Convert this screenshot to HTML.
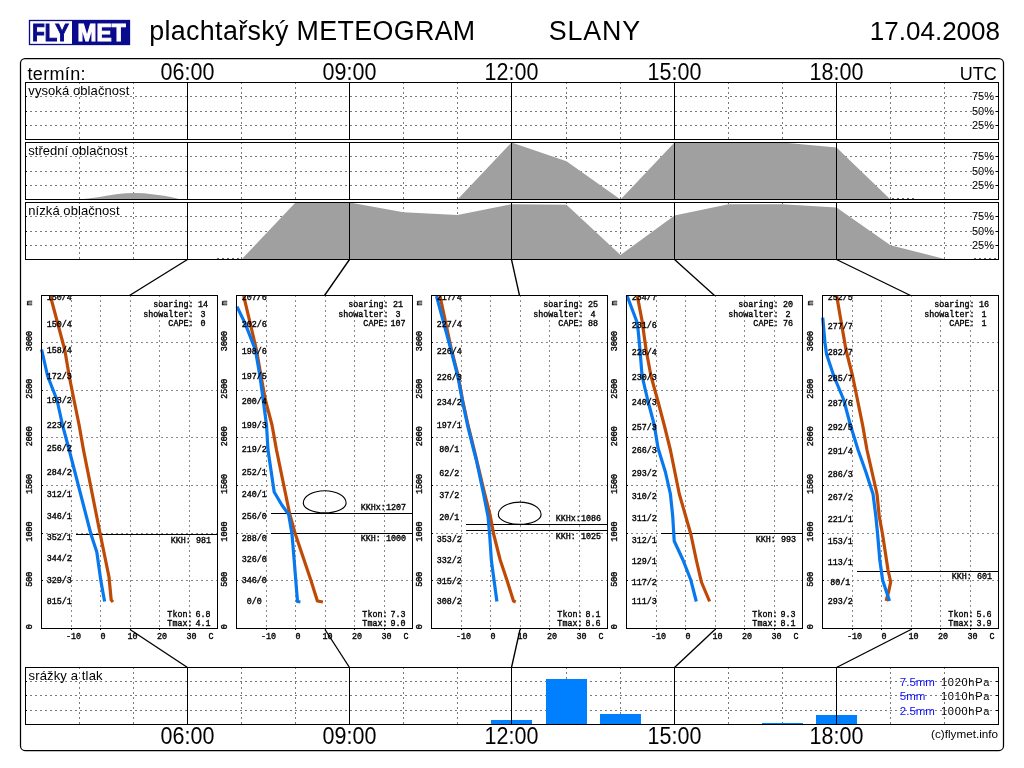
<!DOCTYPE html>
<html><head><meta charset="utf-8"><title>plachtařský METEOGRAM SLANY</title>
<style>
html,body{margin:0;padding:0;background:#fff;width:1024px;height:768px;overflow:hidden}
svg{display:block}
.m{font-family:'Liberation Mono', 'DejaVu Sans Mono', monospace;font-size:8.4px;fill:#000;stroke:#000;stroke-width:0.35px}
</style></head><body>
<svg width="1024" height="768" viewBox="0 0 1024 768">
<rect x="0" y="0" width="1024" height="768" fill="#ffffff"/>
<g>
<rect x="29.5" y="20.5" width="100" height="24" fill="#ffffff" stroke="#0a0a8c" stroke-width="1.3"/>
<rect x="72" y="20" width="58" height="25" fill="#0a0a8c"/>
<text x="32.3" y="41.2" font-family="'Liberation Sans', Arial, Helvetica, sans-serif" font-weight="bold" font-size="23.8" fill="#0a0a8c" stroke="#0a0a8c" stroke-width="1.1" textLength="36.6" lengthAdjust="spacingAndGlyphs">FLY</text>
<text x="77.6" y="41.2" font-family="'Liberation Sans', Arial, Helvetica, sans-serif" font-weight="bold" font-size="23.8" fill="#ffffff" stroke="#ffffff" stroke-width="1.1" textLength="48" lengthAdjust="spacingAndGlyphs">MET</text>
</g>
<text x="149.2" y="39.7" font-family="'Liberation Sans', Arial, Helvetica, sans-serif" font-size="26.8" fill="#000" textLength="326">plachtařský METEOGRAM</text>
<text x="548.8" y="39.5" font-family="'Liberation Sans', Arial, Helvetica, sans-serif" font-size="26.8" fill="#000" textLength="91.4">SLANY</text>
<text x="1000" y="40" font-family="'Liberation Sans', Arial, Helvetica, sans-serif" font-size="26" fill="#000" text-anchor="end">17.04.2008</text>
<rect x="20.5" y="58.5" width="983" height="692" rx="4.5" ry="4.5" fill="none" stroke="#000" stroke-width="1.25"/>
<text x="27.5" y="79.8" font-family="'Liberation Sans', Arial, Helvetica, sans-serif" font-size="18" fill="#000" textLength="58">termín:</text>
<text x="187.5" y="79.8" font-family="'Liberation Sans', Arial, Helvetica, sans-serif" font-size="23" fill="#000" text-anchor="middle" textLength="53.8" lengthAdjust="spacingAndGlyphs">06:00</text>
<text x="349.5" y="79.8" font-family="'Liberation Sans', Arial, Helvetica, sans-serif" font-size="23" fill="#000" text-anchor="middle" textLength="53.8" lengthAdjust="spacingAndGlyphs">09:00</text>
<text x="511.5" y="79.8" font-family="'Liberation Sans', Arial, Helvetica, sans-serif" font-size="23" fill="#000" text-anchor="middle" textLength="53.8" lengthAdjust="spacingAndGlyphs">12:00</text>
<text x="674.5" y="79.8" font-family="'Liberation Sans', Arial, Helvetica, sans-serif" font-size="23" fill="#000" text-anchor="middle" textLength="53.8" lengthAdjust="spacingAndGlyphs">15:00</text>
<text x="836.5" y="79.8" font-family="'Liberation Sans', Arial, Helvetica, sans-serif" font-size="23" fill="#000" text-anchor="middle" textLength="53.8" lengthAdjust="spacingAndGlyphs">18:00</text>
<text x="996.8" y="80" font-family="'Liberation Sans', Arial, Helvetica, sans-serif" font-size="18" fill="#000" text-anchor="end">UTC</text>
<line x1="26" y1="96.5" x2="998" y2="96.5" stroke="#7a7a7a" stroke-width="1" stroke-dasharray="2,3" stroke-dashoffset="1"/>
<line x1="25" y1="96.5" x2="27" y2="96.5" stroke="#000" stroke-width="1"/>
<line x1="996" y1="96.5" x2="999" y2="96.5" stroke="#000" stroke-width="1"/>
<line x1="26" y1="111.5" x2="998" y2="111.5" stroke="#7a7a7a" stroke-width="1" stroke-dasharray="2,3" stroke-dashoffset="1"/>
<line x1="25" y1="111.5" x2="27" y2="111.5" stroke="#000" stroke-width="1"/>
<line x1="996" y1="111.5" x2="999" y2="111.5" stroke="#000" stroke-width="1"/>
<line x1="26" y1="125.5" x2="998" y2="125.5" stroke="#7a7a7a" stroke-width="1" stroke-dasharray="2,3" stroke-dashoffset="1"/>
<line x1="25" y1="125.5" x2="27" y2="125.5" stroke="#000" stroke-width="1"/>
<line x1="996" y1="125.5" x2="999" y2="125.5" stroke="#000" stroke-width="1"/>
<line x1="79.5" y1="82" x2="79.5" y2="139" stroke="#7a7a7a" stroke-width="1" stroke-dasharray="2,3" stroke-dashoffset="0"/>
<line x1="133.5" y1="82" x2="133.5" y2="139" stroke="#7a7a7a" stroke-width="1" stroke-dasharray="2,3" stroke-dashoffset="0"/>
<line x1="241.5" y1="82" x2="241.5" y2="139" stroke="#7a7a7a" stroke-width="1" stroke-dasharray="2,3" stroke-dashoffset="0"/>
<line x1="295.5" y1="82" x2="295.5" y2="139" stroke="#7a7a7a" stroke-width="1" stroke-dasharray="2,3" stroke-dashoffset="0"/>
<line x1="403.5" y1="82" x2="403.5" y2="139" stroke="#7a7a7a" stroke-width="1" stroke-dasharray="2,3" stroke-dashoffset="0"/>
<line x1="457.5" y1="82" x2="457.5" y2="139" stroke="#7a7a7a" stroke-width="1" stroke-dasharray="2,3" stroke-dashoffset="0"/>
<line x1="566.5" y1="82" x2="566.5" y2="139" stroke="#7a7a7a" stroke-width="1" stroke-dasharray="2,3" stroke-dashoffset="0"/>
<line x1="620.5" y1="82" x2="620.5" y2="139" stroke="#7a7a7a" stroke-width="1" stroke-dasharray="2,3" stroke-dashoffset="0"/>
<line x1="728.5" y1="82" x2="728.5" y2="139" stroke="#7a7a7a" stroke-width="1" stroke-dasharray="2,3" stroke-dashoffset="0"/>
<line x1="782.5" y1="82" x2="782.5" y2="139" stroke="#7a7a7a" stroke-width="1" stroke-dasharray="2,3" stroke-dashoffset="0"/>
<line x1="890.5" y1="82" x2="890.5" y2="139" stroke="#7a7a7a" stroke-width="1" stroke-dasharray="2,3" stroke-dashoffset="0"/>
<line x1="944.5" y1="82" x2="944.5" y2="139" stroke="#7a7a7a" stroke-width="1" stroke-dasharray="2,3" stroke-dashoffset="0"/>
<line x1="187.5" y1="82" x2="187.5" y2="140" stroke="#000" stroke-width="1"/>
<line x1="349.5" y1="82" x2="349.5" y2="140" stroke="#000" stroke-width="1"/>
<line x1="511.5" y1="82" x2="511.5" y2="140" stroke="#000" stroke-width="1"/>
<line x1="674.5" y1="82" x2="674.5" y2="140" stroke="#000" stroke-width="1"/>
<line x1="836.5" y1="82" x2="836.5" y2="140" stroke="#000" stroke-width="1"/>
<rect x="25.5" y="82.5" width="973" height="57" fill="none" stroke="#000" stroke-width="1"/>
<text x="28.3" y="95" font-family="'Liberation Sans', Arial, Helvetica, sans-serif" font-size="13" fill="#000" textLength="101">vysoká oblačnost</text>
<text x="994" y="100" font-family="'Liberation Sans', Arial, Helvetica, sans-serif" font-size="11" fill="#000" text-anchor="end">75%</text>
<text x="994" y="115" font-family="'Liberation Sans', Arial, Helvetica, sans-serif" font-size="11" fill="#000" text-anchor="end">50%</text>
<text x="994" y="129" font-family="'Liberation Sans', Arial, Helvetica, sans-serif" font-size="11" fill="#000" text-anchor="end">25%</text>
<line x1="26" y1="156.5" x2="998" y2="156.5" stroke="#7a7a7a" stroke-width="1" stroke-dasharray="2,3" stroke-dashoffset="1"/>
<line x1="25" y1="156.5" x2="27" y2="156.5" stroke="#000" stroke-width="1"/>
<line x1="996" y1="156.5" x2="999" y2="156.5" stroke="#000" stroke-width="1"/>
<line x1="26" y1="171.5" x2="998" y2="171.5" stroke="#7a7a7a" stroke-width="1" stroke-dasharray="2,3" stroke-dashoffset="1"/>
<line x1="25" y1="171.5" x2="27" y2="171.5" stroke="#000" stroke-width="1"/>
<line x1="996" y1="171.5" x2="999" y2="171.5" stroke="#000" stroke-width="1"/>
<line x1="26" y1="185.5" x2="998" y2="185.5" stroke="#7a7a7a" stroke-width="1" stroke-dasharray="2,3" stroke-dashoffset="1"/>
<line x1="25" y1="185.5" x2="27" y2="185.5" stroke="#000" stroke-width="1"/>
<line x1="996" y1="185.5" x2="999" y2="185.5" stroke="#000" stroke-width="1"/>
<line x1="79.5" y1="142" x2="79.5" y2="199" stroke="#7a7a7a" stroke-width="1" stroke-dasharray="2,3" stroke-dashoffset="0"/>
<line x1="133.5" y1="142" x2="133.5" y2="199" stroke="#7a7a7a" stroke-width="1" stroke-dasharray="2,3" stroke-dashoffset="0"/>
<line x1="241.5" y1="142" x2="241.5" y2="199" stroke="#7a7a7a" stroke-width="1" stroke-dasharray="2,3" stroke-dashoffset="0"/>
<line x1="295.5" y1="142" x2="295.5" y2="199" stroke="#7a7a7a" stroke-width="1" stroke-dasharray="2,3" stroke-dashoffset="0"/>
<line x1="403.5" y1="142" x2="403.5" y2="199" stroke="#7a7a7a" stroke-width="1" stroke-dasharray="2,3" stroke-dashoffset="0"/>
<line x1="457.5" y1="142" x2="457.5" y2="199" stroke="#7a7a7a" stroke-width="1" stroke-dasharray="2,3" stroke-dashoffset="0"/>
<line x1="566.5" y1="142" x2="566.5" y2="199" stroke="#7a7a7a" stroke-width="1" stroke-dasharray="2,3" stroke-dashoffset="0"/>
<line x1="620.5" y1="142" x2="620.5" y2="199" stroke="#7a7a7a" stroke-width="1" stroke-dasharray="2,3" stroke-dashoffset="0"/>
<line x1="728.5" y1="142" x2="728.5" y2="199" stroke="#7a7a7a" stroke-width="1" stroke-dasharray="2,3" stroke-dashoffset="0"/>
<line x1="782.5" y1="142" x2="782.5" y2="199" stroke="#7a7a7a" stroke-width="1" stroke-dasharray="2,3" stroke-dashoffset="0"/>
<line x1="890.5" y1="142" x2="890.5" y2="199" stroke="#7a7a7a" stroke-width="1" stroke-dasharray="2,3" stroke-dashoffset="0"/>
<line x1="944.5" y1="142" x2="944.5" y2="199" stroke="#7a7a7a" stroke-width="1" stroke-dasharray="2,3" stroke-dashoffset="0"/>
<polygon points="25.5,199.5 25.5,199.5 79.5,199.5 88.0,198.6 98.0,197.2 108.0,195.5 118.0,194.1 126.0,193.2 134.0,192.9 144.0,193.2 154.0,194.4 164.0,195.8 172.0,197.2 179.0,198.9 187.5,199.5 241.5,199.5 295.5,199.5 349.5,199.5 403.5,199.5 457.5,199.5 511.5,142.5 566.5,161.3 620.5,199.5 674.5,142.5 728.5,142.5 782.5,142.5 836.5,147.6 890.5,199.5 944.5,199.5 998.5,199.5 998.5,199.5" fill="#a0a0a0"/>
<line x1="187.5" y1="142" x2="187.5" y2="200" stroke="#000" stroke-width="1"/>
<line x1="349.5" y1="142" x2="349.5" y2="200" stroke="#000" stroke-width="1"/>
<line x1="511.5" y1="142" x2="511.5" y2="200" stroke="#000" stroke-width="1"/>
<line x1="674.5" y1="142" x2="674.5" y2="200" stroke="#000" stroke-width="1"/>
<line x1="836.5" y1="142" x2="836.5" y2="200" stroke="#000" stroke-width="1"/>
<rect x="25.5" y="142.5" width="973" height="57" fill="none" stroke="#000" stroke-width="1"/>
<text x="28.3" y="155" font-family="'Liberation Sans', Arial, Helvetica, sans-serif" font-size="13" fill="#000" textLength="99.2">střední oblačnost</text>
<text x="994" y="160" font-family="'Liberation Sans', Arial, Helvetica, sans-serif" font-size="11" fill="#000" text-anchor="end">75%</text>
<text x="994" y="175" font-family="'Liberation Sans', Arial, Helvetica, sans-serif" font-size="11" fill="#000" text-anchor="end">50%</text>
<text x="994" y="189" font-family="'Liberation Sans', Arial, Helvetica, sans-serif" font-size="11" fill="#000" text-anchor="end">25%</text>
<line x1="26" y1="216.5" x2="998" y2="216.5" stroke="#7a7a7a" stroke-width="1" stroke-dasharray="2,3" stroke-dashoffset="1"/>
<line x1="25" y1="216.5" x2="27" y2="216.5" stroke="#000" stroke-width="1"/>
<line x1="996" y1="216.5" x2="999" y2="216.5" stroke="#000" stroke-width="1"/>
<line x1="26" y1="231.5" x2="998" y2="231.5" stroke="#7a7a7a" stroke-width="1" stroke-dasharray="2,3" stroke-dashoffset="1"/>
<line x1="25" y1="231.5" x2="27" y2="231.5" stroke="#000" stroke-width="1"/>
<line x1="996" y1="231.5" x2="999" y2="231.5" stroke="#000" stroke-width="1"/>
<line x1="26" y1="245.5" x2="998" y2="245.5" stroke="#7a7a7a" stroke-width="1" stroke-dasharray="2,3" stroke-dashoffset="1"/>
<line x1="25" y1="245.5" x2="27" y2="245.5" stroke="#000" stroke-width="1"/>
<line x1="996" y1="245.5" x2="999" y2="245.5" stroke="#000" stroke-width="1"/>
<line x1="79.5" y1="202" x2="79.5" y2="259" stroke="#7a7a7a" stroke-width="1" stroke-dasharray="2,3" stroke-dashoffset="0"/>
<line x1="133.5" y1="202" x2="133.5" y2="259" stroke="#7a7a7a" stroke-width="1" stroke-dasharray="2,3" stroke-dashoffset="0"/>
<line x1="241.5" y1="202" x2="241.5" y2="259" stroke="#7a7a7a" stroke-width="1" stroke-dasharray="2,3" stroke-dashoffset="0"/>
<line x1="295.5" y1="202" x2="295.5" y2="259" stroke="#7a7a7a" stroke-width="1" stroke-dasharray="2,3" stroke-dashoffset="0"/>
<line x1="403.5" y1="202" x2="403.5" y2="259" stroke="#7a7a7a" stroke-width="1" stroke-dasharray="2,3" stroke-dashoffset="0"/>
<line x1="457.5" y1="202" x2="457.5" y2="259" stroke="#7a7a7a" stroke-width="1" stroke-dasharray="2,3" stroke-dashoffset="0"/>
<line x1="566.5" y1="202" x2="566.5" y2="259" stroke="#7a7a7a" stroke-width="1" stroke-dasharray="2,3" stroke-dashoffset="0"/>
<line x1="620.5" y1="202" x2="620.5" y2="259" stroke="#7a7a7a" stroke-width="1" stroke-dasharray="2,3" stroke-dashoffset="0"/>
<line x1="728.5" y1="202" x2="728.5" y2="259" stroke="#7a7a7a" stroke-width="1" stroke-dasharray="2,3" stroke-dashoffset="0"/>
<line x1="782.5" y1="202" x2="782.5" y2="259" stroke="#7a7a7a" stroke-width="1" stroke-dasharray="2,3" stroke-dashoffset="0"/>
<line x1="890.5" y1="202" x2="890.5" y2="259" stroke="#7a7a7a" stroke-width="1" stroke-dasharray="2,3" stroke-dashoffset="0"/>
<line x1="944.5" y1="202" x2="944.5" y2="259" stroke="#7a7a7a" stroke-width="1" stroke-dasharray="2,3" stroke-dashoffset="0"/>
<polygon points="25.5,259.5 25.5,259.5 79.5,259.5 133.5,259.5 187.5,259.5 241.5,259.5 295.5,202.5 349.5,202.5 403.5,212.2 457.5,215.0 511.5,204.2 566.5,204.8 620.5,254.9 674.5,215.6 728.5,204.2 782.5,204.2 836.5,207.6 890.5,245.2 944.5,258.9 998.5,259.5 998.5,259.5" fill="#a0a0a0"/>
<line x1="187.5" y1="202" x2="187.5" y2="260" stroke="#000" stroke-width="1"/>
<line x1="349.5" y1="202" x2="349.5" y2="260" stroke="#000" stroke-width="1"/>
<line x1="511.5" y1="202" x2="511.5" y2="260" stroke="#000" stroke-width="1"/>
<line x1="674.5" y1="202" x2="674.5" y2="260" stroke="#000" stroke-width="1"/>
<line x1="836.5" y1="202" x2="836.5" y2="260" stroke="#000" stroke-width="1"/>
<rect x="25.5" y="202.5" width="973" height="57" fill="none" stroke="#000" stroke-width="1"/>
<text x="28.3" y="215" font-family="'Liberation Sans', Arial, Helvetica, sans-serif" font-size="13" fill="#000" textLength="91.2">nízká oblačnost</text>
<text x="994" y="220" font-family="'Liberation Sans', Arial, Helvetica, sans-serif" font-size="11" fill="#000" text-anchor="end">75%</text>
<text x="994" y="235" font-family="'Liberation Sans', Arial, Helvetica, sans-serif" font-size="11" fill="#000" text-anchor="end">50%</text>
<text x="994" y="249" font-family="'Liberation Sans', Arial, Helvetica, sans-serif" font-size="11" fill="#000" text-anchor="end">25%</text>
<line x1="217" y1="258.5" x2="241" y2="258.5" stroke="#666" stroke-width="1" stroke-dasharray="2,3"/>
<line x1="892" y1="198.5" x2="917" y2="198.5" stroke="#666" stroke-width="1" stroke-dasharray="2,3"/>
<line x1="974" y1="258.5" x2="997" y2="258.5" stroke="#666" stroke-width="1" stroke-dasharray="2,3"/>
<line x1="187.5" y1="259.5" x2="129.5" y2="295.5" stroke="#000" stroke-width="1.35"/>
<line x1="130" y1="629.5" x2="187.5" y2="667.5" stroke="#000" stroke-width="1.35"/>
<line x1="349.5" y1="259.5" x2="324.5" y2="295.5" stroke="#000" stroke-width="1.35"/>
<line x1="325" y1="629.5" x2="349.5" y2="667.5" stroke="#000" stroke-width="1.35"/>
<line x1="511.5" y1="259.5" x2="519.5" y2="295.5" stroke="#000" stroke-width="1.35"/>
<line x1="520" y1="629.5" x2="511.5" y2="667.5" stroke="#000" stroke-width="1.35"/>
<line x1="674.5" y1="259.5" x2="714.5" y2="295.5" stroke="#000" stroke-width="1.35"/>
<line x1="715" y1="629.5" x2="674.5" y2="667.5" stroke="#000" stroke-width="1.35"/>
<line x1="836.5" y1="259.5" x2="910.5" y2="295.5" stroke="#000" stroke-width="1.35"/>
<line x1="911" y1="629.5" x2="836.5" y2="667.5" stroke="#000" stroke-width="1.35"/>
<defs>
<clipPath id="c0"><rect x="38" y="296" width="179" height="332"/></clipPath>
<clipPath id="c1"><rect x="233" y="296" width="179" height="332"/></clipPath>
<clipPath id="c2"><rect x="428" y="296" width="179" height="332"/></clipPath>
<clipPath id="c3"><rect x="623" y="296" width="179" height="332"/></clipPath>
<clipPath id="c4"><rect x="819" y="296" width="179" height="332"/></clipPath>
</defs>
<line x1="71.5" y1="295" x2="71.5" y2="628" stroke="#8a8a8a" stroke-width="1" stroke-dasharray="2,3" stroke-dashoffset="0"/>
<line x1="71.5" y1="628" x2="71.5" y2="630" stroke="#000" stroke-width="1"/>
<line x1="100.5" y1="295" x2="100.5" y2="628" stroke="#8a8a8a" stroke-width="1" stroke-dasharray="2,3" stroke-dashoffset="0"/>
<line x1="100.5" y1="628" x2="100.5" y2="630" stroke="#000" stroke-width="1"/>
<line x1="130.5" y1="295" x2="130.5" y2="628" stroke="#8a8a8a" stroke-width="1" stroke-dasharray="2,3" stroke-dashoffset="0"/>
<line x1="130.5" y1="628" x2="130.5" y2="630" stroke="#000" stroke-width="1"/>
<line x1="159.5" y1="295" x2="159.5" y2="628" stroke="#8a8a8a" stroke-width="1" stroke-dasharray="2,3" stroke-dashoffset="0"/>
<line x1="159.5" y1="628" x2="159.5" y2="630" stroke="#000" stroke-width="1"/>
<line x1="189.5" y1="295" x2="189.5" y2="628" stroke="#8a8a8a" stroke-width="1" stroke-dasharray="2,3" stroke-dashoffset="0"/>
<line x1="189.5" y1="628" x2="189.5" y2="630" stroke="#000" stroke-width="1"/>
<line x1="42" y1="580.5" x2="217" y2="580.5" stroke="#8a8a8a" stroke-width="1" stroke-dasharray="2,3" stroke-dashoffset="1"/>
<line x1="41" y1="580.5" x2="43" y2="580.5" stroke="#000" stroke-width="1"/>
<line x1="42" y1="533.5" x2="217" y2="533.5" stroke="#8a8a8a" stroke-width="1" stroke-dasharray="2,3" stroke-dashoffset="1"/>
<line x1="41" y1="533.5" x2="43" y2="533.5" stroke="#000" stroke-width="1"/>
<line x1="42" y1="485.5" x2="217" y2="485.5" stroke="#8a8a8a" stroke-width="1" stroke-dasharray="2,3" stroke-dashoffset="1"/>
<line x1="41" y1="485.5" x2="43" y2="485.5" stroke="#000" stroke-width="1"/>
<line x1="42" y1="437.5" x2="217" y2="437.5" stroke="#8a8a8a" stroke-width="1" stroke-dasharray="2,3" stroke-dashoffset="1"/>
<line x1="41" y1="437.5" x2="43" y2="437.5" stroke="#000" stroke-width="1"/>
<line x1="42" y1="390.5" x2="217" y2="390.5" stroke="#8a8a8a" stroke-width="1" stroke-dasharray="2,3" stroke-dashoffset="1"/>
<line x1="41" y1="390.5" x2="43" y2="390.5" stroke="#000" stroke-width="1"/>
<line x1="42" y1="342.5" x2="217" y2="342.5" stroke="#8a8a8a" stroke-width="1" stroke-dasharray="2,3" stroke-dashoffset="1"/>
<line x1="41" y1="342.5" x2="43" y2="342.5" stroke="#000" stroke-width="1"/>
<g clip-path="url(#c0)">
<line x1="76" y1="534.5" x2="217" y2="534.5" stroke="#000" stroke-width="1"/>
<polyline points="50.4,296.0 64.8,350.0 69.2,376.0 74.0,400.0 79.1,425.0 83.5,450.0 100.2,534.0 109.0,577.0 111.2,600.0 113.0,602.0" fill="none" stroke="#bf4a06" stroke-width="3.2" stroke-linejoin="round" stroke-linecap="butt"/>
<polyline points="41.6,349.5 47.6,376.0 57.0,400.0 62.5,425.0 69.2,450.0 90.9,534.0 96.8,552.0 100.8,580.5 104.6,601.5" fill="none" stroke="#0878ee" stroke-width="3.2" stroke-linejoin="round" stroke-linecap="butt"/>
<text x="59.3" y="299.5" class="m" text-anchor="middle">150/4</text>
<text x="59.3" y="327.3" class="m" text-anchor="middle">150/4</text>
<text x="59.3" y="353.2" class="m" text-anchor="middle">158/4</text>
<text x="59.3" y="379.3" class="m" text-anchor="middle">172/3</text>
<text x="59.3" y="403" class="m" text-anchor="middle">193/2</text>
<text x="59.3" y="428" class="m" text-anchor="middle">223/2</text>
<text x="59.3" y="451.2" class="m" text-anchor="middle">256/2</text>
<text x="59.3" y="475.3" class="m" text-anchor="middle">284/2</text>
<text x="59.3" y="496.9" class="m" text-anchor="middle">312/1</text>
<text x="59.3" y="518.7" class="m" text-anchor="middle">346/1</text>
<text x="59.3" y="540.1" class="m" text-anchor="middle">352/1</text>
<text x="59.3" y="561.1" class="m" text-anchor="middle">344/2</text>
<text x="59.3" y="582.5" class="m" text-anchor="middle">329/3</text>
<text x="59.3" y="603.5" class="m" text-anchor="middle">815/1</text>
</g>
<text x="211" y="542.9" class="m" text-anchor="end">KKH: 981</text>
<text x="193.5" y="307.3" class="m" text-anchor="end">soaring:</text>
<text x="203" y="307.3" class="m" text-anchor="middle">14</text>
<text x="193.5" y="316.6" class="m" text-anchor="end">showalter:</text>
<text x="203" y="316.6" class="m" text-anchor="middle">3</text>
<text x="193.5" y="326" class="m" text-anchor="end">CAPE:</text>
<text x="203" y="326" class="m" text-anchor="middle">0</text>
<text x="192.5" y="617.2" class="m" text-anchor="end">Tkon:</text>
<text x="203" y="617.2" class="m" text-anchor="middle">6.8</text>
<text x="192.5" y="626" class="m" text-anchor="end">Tmax:</text>
<text x="203" y="626" class="m" text-anchor="middle">4.1</text>
<rect x="41.5" y="295.5" width="176" height="333" fill="none" stroke="#000" stroke-width="1"/>
<text x="73.5" y="639" class="m" text-anchor="middle">-10</text>
<text x="103.0" y="639" class="m" text-anchor="middle">0</text>
<text x="132.5" y="639" class="m" text-anchor="middle">10</text>
<text x="162.0" y="639" class="m" text-anchor="middle">20</text>
<text x="191.5" y="639" class="m" text-anchor="middle">30</text>
<text x="211" y="639" class="m" text-anchor="middle">C</text>
<text class="m" text-anchor="middle" transform="translate(31.5,626.8) rotate(-90)">0</text>
<text class="m" text-anchor="middle" transform="translate(31.5,579.2) rotate(-90)">500</text>
<text class="m" text-anchor="middle" transform="translate(31.5,531.6) rotate(-90)">1000</text>
<text class="m" text-anchor="middle" transform="translate(31.5,484.0) rotate(-90)">1500</text>
<text class="m" text-anchor="middle" transform="translate(31.5,436.3) rotate(-90)">2000</text>
<text class="m" text-anchor="middle" transform="translate(31.5,388.7) rotate(-90)">2500</text>
<text class="m" text-anchor="middle" transform="translate(31.5,341.1) rotate(-90)">3000</text>
<text class="m" text-anchor="middle" transform="translate(31.5,303) rotate(-90)">m</text>
<line x1="266.5" y1="295" x2="266.5" y2="628" stroke="#8a8a8a" stroke-width="1" stroke-dasharray="2,3" stroke-dashoffset="0"/>
<line x1="266.5" y1="628" x2="266.5" y2="630" stroke="#000" stroke-width="1"/>
<line x1="295.5" y1="295" x2="295.5" y2="628" stroke="#8a8a8a" stroke-width="1" stroke-dasharray="2,3" stroke-dashoffset="0"/>
<line x1="295.5" y1="628" x2="295.5" y2="630" stroke="#000" stroke-width="1"/>
<line x1="325.5" y1="295" x2="325.5" y2="628" stroke="#8a8a8a" stroke-width="1" stroke-dasharray="2,3" stroke-dashoffset="0"/>
<line x1="325.5" y1="628" x2="325.5" y2="630" stroke="#000" stroke-width="1"/>
<line x1="354.5" y1="295" x2="354.5" y2="628" stroke="#8a8a8a" stroke-width="1" stroke-dasharray="2,3" stroke-dashoffset="0"/>
<line x1="354.5" y1="628" x2="354.5" y2="630" stroke="#000" stroke-width="1"/>
<line x1="384.5" y1="295" x2="384.5" y2="628" stroke="#8a8a8a" stroke-width="1" stroke-dasharray="2,3" stroke-dashoffset="0"/>
<line x1="384.5" y1="628" x2="384.5" y2="630" stroke="#000" stroke-width="1"/>
<line x1="237" y1="580.5" x2="412" y2="580.5" stroke="#8a8a8a" stroke-width="1" stroke-dasharray="2,3" stroke-dashoffset="1"/>
<line x1="236" y1="580.5" x2="238" y2="580.5" stroke="#000" stroke-width="1"/>
<line x1="237" y1="533.5" x2="412" y2="533.5" stroke="#8a8a8a" stroke-width="1" stroke-dasharray="2,3" stroke-dashoffset="1"/>
<line x1="236" y1="533.5" x2="238" y2="533.5" stroke="#000" stroke-width="1"/>
<line x1="237" y1="485.5" x2="412" y2="485.5" stroke="#8a8a8a" stroke-width="1" stroke-dasharray="2,3" stroke-dashoffset="1"/>
<line x1="236" y1="485.5" x2="238" y2="485.5" stroke="#000" stroke-width="1"/>
<line x1="237" y1="437.5" x2="412" y2="437.5" stroke="#8a8a8a" stroke-width="1" stroke-dasharray="2,3" stroke-dashoffset="1"/>
<line x1="236" y1="437.5" x2="238" y2="437.5" stroke="#000" stroke-width="1"/>
<line x1="237" y1="390.5" x2="412" y2="390.5" stroke="#8a8a8a" stroke-width="1" stroke-dasharray="2,3" stroke-dashoffset="1"/>
<line x1="236" y1="390.5" x2="238" y2="390.5" stroke="#000" stroke-width="1"/>
<line x1="237" y1="342.5" x2="412" y2="342.5" stroke="#8a8a8a" stroke-width="1" stroke-dasharray="2,3" stroke-dashoffset="1"/>
<line x1="236" y1="342.5" x2="238" y2="342.5" stroke="#000" stroke-width="1"/>
<g clip-path="url(#c1)">
<line x1="271" y1="513.5" x2="412" y2="513.5" stroke="#000" stroke-width="1"/>
<line x1="271" y1="533.5" x2="412" y2="533.5" stroke="#000" stroke-width="1"/>
<polyline points="243.7,296.0 256.5,350.0 261.0,376.0 265.4,400.0 272.0,425.0 276.5,450.0 289.7,514.0 295.3,534.0 310.8,580.0 317.4,601.0 322.9,602.0" fill="none" stroke="#bf4a06" stroke-width="3.2" stroke-linejoin="round" stroke-linecap="butt"/>
<polyline points="237.0,306.6 245.5,324.3 255.4,350.0 259.9,376.0 263.2,400.0 266.5,425.0 268.0,450.0 274.2,492.0 282.0,505.3 288.6,514.2 292.0,534.0 294.2,560.6 297.5,601.5 300.4,602.0" fill="none" stroke="#0878ee" stroke-width="3.2" stroke-linejoin="round" stroke-linecap="butt"/>
<text x="254.3" y="299.5" class="m" text-anchor="middle">207/6</text>
<text x="254.3" y="327.3" class="m" text-anchor="middle">202/6</text>
<text x="254.3" y="353.8" class="m" text-anchor="middle">198/6</text>
<text x="254.3" y="379.3" class="m" text-anchor="middle">197/5</text>
<text x="254.3" y="403.6" class="m" text-anchor="middle">200/4</text>
<text x="254.3" y="428" class="m" text-anchor="middle">199/3</text>
<text x="254.3" y="451.8" class="m" text-anchor="middle">219/2</text>
<text x="254.3" y="475.1" class="m" text-anchor="middle">252/1</text>
<text x="254.3" y="497.2" class="m" text-anchor="middle">240/1</text>
<text x="254.3" y="518.9" class="m" text-anchor="middle">256/0</text>
<text x="254.3" y="541" class="m" text-anchor="middle">288/0</text>
<text x="254.3" y="561.8" class="m" text-anchor="middle">326/0</text>
<text x="254.3" y="583" class="m" text-anchor="middle">346/0</text>
<text x="254.3" y="604.1" class="m" text-anchor="middle">0/0</text>
</g>
<path d="M303.3,503.1 A21.4,12.4 0 0 1 346.1,503.1 A21.4,9.8 0 0 1 303.3,503.1 Z" fill="none" stroke="#000" stroke-width="1.15"/>
<text x="406" y="509.9" class="m" text-anchor="end">KKHx:1207</text>
<text x="406" y="541.1" class="m" text-anchor="end">KKH: 1000</text>
<text x="388.5" y="307.3" class="m" text-anchor="end">soaring:</text>
<text x="398" y="307.3" class="m" text-anchor="middle">21</text>
<text x="388.5" y="316.6" class="m" text-anchor="end">showalter:</text>
<text x="398" y="316.6" class="m" text-anchor="middle">3</text>
<text x="388.5" y="326" class="m" text-anchor="end">CAPE:</text>
<text x="398" y="326" class="m" text-anchor="middle">107</text>
<text x="387.5" y="617.2" class="m" text-anchor="end">Tkon:</text>
<text x="398" y="617.2" class="m" text-anchor="middle">7.3</text>
<text x="387.5" y="626" class="m" text-anchor="end">Tmax:</text>
<text x="398" y="626" class="m" text-anchor="middle">9.0</text>
<rect x="236.5" y="295.5" width="176" height="333" fill="none" stroke="#000" stroke-width="1"/>
<text x="268.5" y="639" class="m" text-anchor="middle">-10</text>
<text x="298.0" y="639" class="m" text-anchor="middle">0</text>
<text x="327.5" y="639" class="m" text-anchor="middle">10</text>
<text x="357.0" y="639" class="m" text-anchor="middle">20</text>
<text x="386.5" y="639" class="m" text-anchor="middle">30</text>
<text x="406" y="639" class="m" text-anchor="middle">C</text>
<text class="m" text-anchor="middle" transform="translate(226.5,626.8) rotate(-90)">0</text>
<text class="m" text-anchor="middle" transform="translate(226.5,579.2) rotate(-90)">500</text>
<text class="m" text-anchor="middle" transform="translate(226.5,531.6) rotate(-90)">1000</text>
<text class="m" text-anchor="middle" transform="translate(226.5,484.0) rotate(-90)">1500</text>
<text class="m" text-anchor="middle" transform="translate(226.5,436.3) rotate(-90)">2000</text>
<text class="m" text-anchor="middle" transform="translate(226.5,388.7) rotate(-90)">2500</text>
<text class="m" text-anchor="middle" transform="translate(226.5,341.1) rotate(-90)">3000</text>
<text class="m" text-anchor="middle" transform="translate(226.5,303) rotate(-90)">m</text>
<line x1="461.5" y1="295" x2="461.5" y2="628" stroke="#8a8a8a" stroke-width="1" stroke-dasharray="2,3" stroke-dashoffset="0"/>
<line x1="461.5" y1="628" x2="461.5" y2="630" stroke="#000" stroke-width="1"/>
<line x1="490.5" y1="295" x2="490.5" y2="628" stroke="#8a8a8a" stroke-width="1" stroke-dasharray="2,3" stroke-dashoffset="0"/>
<line x1="490.5" y1="628" x2="490.5" y2="630" stroke="#000" stroke-width="1"/>
<line x1="520.5" y1="295" x2="520.5" y2="628" stroke="#8a8a8a" stroke-width="1" stroke-dasharray="2,3" stroke-dashoffset="0"/>
<line x1="520.5" y1="628" x2="520.5" y2="630" stroke="#000" stroke-width="1"/>
<line x1="549.5" y1="295" x2="549.5" y2="628" stroke="#8a8a8a" stroke-width="1" stroke-dasharray="2,3" stroke-dashoffset="0"/>
<line x1="549.5" y1="628" x2="549.5" y2="630" stroke="#000" stroke-width="1"/>
<line x1="579.5" y1="295" x2="579.5" y2="628" stroke="#8a8a8a" stroke-width="1" stroke-dasharray="2,3" stroke-dashoffset="0"/>
<line x1="579.5" y1="628" x2="579.5" y2="630" stroke="#000" stroke-width="1"/>
<line x1="432" y1="580.5" x2="607" y2="580.5" stroke="#8a8a8a" stroke-width="1" stroke-dasharray="2,3" stroke-dashoffset="1"/>
<line x1="431" y1="580.5" x2="433" y2="580.5" stroke="#000" stroke-width="1"/>
<line x1="432" y1="533.5" x2="607" y2="533.5" stroke="#8a8a8a" stroke-width="1" stroke-dasharray="2,3" stroke-dashoffset="1"/>
<line x1="431" y1="533.5" x2="433" y2="533.5" stroke="#000" stroke-width="1"/>
<line x1="432" y1="485.5" x2="607" y2="485.5" stroke="#8a8a8a" stroke-width="1" stroke-dasharray="2,3" stroke-dashoffset="1"/>
<line x1="431" y1="485.5" x2="433" y2="485.5" stroke="#000" stroke-width="1"/>
<line x1="432" y1="437.5" x2="607" y2="437.5" stroke="#8a8a8a" stroke-width="1" stroke-dasharray="2,3" stroke-dashoffset="1"/>
<line x1="431" y1="437.5" x2="433" y2="437.5" stroke="#000" stroke-width="1"/>
<line x1="432" y1="390.5" x2="607" y2="390.5" stroke="#8a8a8a" stroke-width="1" stroke-dasharray="2,3" stroke-dashoffset="1"/>
<line x1="431" y1="390.5" x2="433" y2="390.5" stroke="#000" stroke-width="1"/>
<line x1="432" y1="342.5" x2="607" y2="342.5" stroke="#8a8a8a" stroke-width="1" stroke-dasharray="2,3" stroke-dashoffset="1"/>
<line x1="431" y1="342.5" x2="433" y2="342.5" stroke="#000" stroke-width="1"/>
<g clip-path="url(#c2)">
<line x1="466" y1="524.5" x2="607" y2="524.5" stroke="#000" stroke-width="1"/>
<line x1="466" y1="530.5" x2="607" y2="530.5" stroke="#000" stroke-width="1"/>
<polyline points="440.0,296.0 451.5,350.0 458.2,376.0 462.6,400.0 468.0,425.0 474.2,450.0 484.3,492.0 490.3,516.0 493.6,534.0 500.2,560.0 506.9,580.0 513.5,601.0 515.7,602.0" fill="none" stroke="#bf4a06" stroke-width="3.2" stroke-linejoin="round" stroke-linecap="butt"/>
<polyline points="436.5,296.0 451.0,350.0 457.7,376.0 462.2,400.0 467.5,425.0 473.7,450.0 476.3,460.0 483.6,494.2 488.0,516.4 489.6,534.0 491.4,560.6 496.9,601.5" fill="none" stroke="#0878ee" stroke-width="3.2" stroke-linejoin="round" stroke-linecap="butt"/>
<text x="449.3" y="299.5" class="m" text-anchor="middle">217/4</text>
<text x="449.3" y="327.3" class="m" text-anchor="middle">227/4</text>
<text x="449.3" y="353.8" class="m" text-anchor="middle">226/4</text>
<text x="449.3" y="380" class="m" text-anchor="middle">226/3</text>
<text x="449.3" y="404.7" class="m" text-anchor="middle">234/2</text>
<text x="449.3" y="428.4" class="m" text-anchor="middle">197/1</text>
<text x="449.3" y="452.3" class="m" text-anchor="middle">80/1</text>
<text x="449.3" y="475.8" class="m" text-anchor="middle">62/2</text>
<text x="449.3" y="498.4" class="m" text-anchor="middle">37/2</text>
<text x="449.3" y="520" class="m" text-anchor="middle">20/1</text>
<text x="449.3" y="542" class="m" text-anchor="middle">353/2</text>
<text x="449.3" y="563" class="m" text-anchor="middle">332/2</text>
<text x="449.3" y="584" class="m" text-anchor="middle">315/2</text>
<text x="449.3" y="604.1" class="m" text-anchor="middle">308/2</text>
</g>
<path d="M498.3,514.6 A21.4,12.4 0 0 1 541.1,514.6 A21.4,9.8 0 0 1 498.3,514.6 Z" fill="none" stroke="#000" stroke-width="1.15"/>
<text x="601" y="521.4" class="m" text-anchor="end">KKHx:1086</text>
<text x="601" y="538.7" class="m" text-anchor="end">KKH: 1025</text>
<text x="583.5" y="307.3" class="m" text-anchor="end">soaring:</text>
<text x="593" y="307.3" class="m" text-anchor="middle">25</text>
<text x="583.5" y="316.6" class="m" text-anchor="end">showalter:</text>
<text x="593" y="316.6" class="m" text-anchor="middle">4</text>
<text x="583.5" y="326" class="m" text-anchor="end">CAPE:</text>
<text x="593" y="326" class="m" text-anchor="middle">88</text>
<text x="582.5" y="617.2" class="m" text-anchor="end">Tkon:</text>
<text x="593" y="617.2" class="m" text-anchor="middle">8.1</text>
<text x="582.5" y="626" class="m" text-anchor="end">Tmax:</text>
<text x="593" y="626" class="m" text-anchor="middle">8.6</text>
<rect x="431.5" y="295.5" width="176" height="333" fill="none" stroke="#000" stroke-width="1"/>
<text x="463.5" y="639" class="m" text-anchor="middle">-10</text>
<text x="493.0" y="639" class="m" text-anchor="middle">0</text>
<text x="522.5" y="639" class="m" text-anchor="middle">10</text>
<text x="552.0" y="639" class="m" text-anchor="middle">20</text>
<text x="581.5" y="639" class="m" text-anchor="middle">30</text>
<text x="601" y="639" class="m" text-anchor="middle">C</text>
<text class="m" text-anchor="middle" transform="translate(421.5,626.8) rotate(-90)">0</text>
<text class="m" text-anchor="middle" transform="translate(421.5,579.2) rotate(-90)">500</text>
<text class="m" text-anchor="middle" transform="translate(421.5,531.6) rotate(-90)">1000</text>
<text class="m" text-anchor="middle" transform="translate(421.5,484.0) rotate(-90)">1500</text>
<text class="m" text-anchor="middle" transform="translate(421.5,436.3) rotate(-90)">2000</text>
<text class="m" text-anchor="middle" transform="translate(421.5,388.7) rotate(-90)">2500</text>
<text class="m" text-anchor="middle" transform="translate(421.5,341.1) rotate(-90)">3000</text>
<text class="m" text-anchor="middle" transform="translate(421.5,303) rotate(-90)">m</text>
<line x1="656.5" y1="295" x2="656.5" y2="628" stroke="#8a8a8a" stroke-width="1" stroke-dasharray="2,3" stroke-dashoffset="0"/>
<line x1="656.5" y1="628" x2="656.5" y2="630" stroke="#000" stroke-width="1"/>
<line x1="685.5" y1="295" x2="685.5" y2="628" stroke="#8a8a8a" stroke-width="1" stroke-dasharray="2,3" stroke-dashoffset="0"/>
<line x1="685.5" y1="628" x2="685.5" y2="630" stroke="#000" stroke-width="1"/>
<line x1="715.5" y1="295" x2="715.5" y2="628" stroke="#8a8a8a" stroke-width="1" stroke-dasharray="2,3" stroke-dashoffset="0"/>
<line x1="715.5" y1="628" x2="715.5" y2="630" stroke="#000" stroke-width="1"/>
<line x1="744.5" y1="295" x2="744.5" y2="628" stroke="#8a8a8a" stroke-width="1" stroke-dasharray="2,3" stroke-dashoffset="0"/>
<line x1="744.5" y1="628" x2="744.5" y2="630" stroke="#000" stroke-width="1"/>
<line x1="774.5" y1="295" x2="774.5" y2="628" stroke="#8a8a8a" stroke-width="1" stroke-dasharray="2,3" stroke-dashoffset="0"/>
<line x1="774.5" y1="628" x2="774.5" y2="630" stroke="#000" stroke-width="1"/>
<line x1="627" y1="580.5" x2="802" y2="580.5" stroke="#8a8a8a" stroke-width="1" stroke-dasharray="2,3" stroke-dashoffset="1"/>
<line x1="626" y1="580.5" x2="628" y2="580.5" stroke="#000" stroke-width="1"/>
<line x1="627" y1="533.5" x2="802" y2="533.5" stroke="#8a8a8a" stroke-width="1" stroke-dasharray="2,3" stroke-dashoffset="1"/>
<line x1="626" y1="533.5" x2="628" y2="533.5" stroke="#000" stroke-width="1"/>
<line x1="627" y1="485.5" x2="802" y2="485.5" stroke="#8a8a8a" stroke-width="1" stroke-dasharray="2,3" stroke-dashoffset="1"/>
<line x1="626" y1="485.5" x2="628" y2="485.5" stroke="#000" stroke-width="1"/>
<line x1="627" y1="437.5" x2="802" y2="437.5" stroke="#8a8a8a" stroke-width="1" stroke-dasharray="2,3" stroke-dashoffset="1"/>
<line x1="626" y1="437.5" x2="628" y2="437.5" stroke="#000" stroke-width="1"/>
<line x1="627" y1="390.5" x2="802" y2="390.5" stroke="#8a8a8a" stroke-width="1" stroke-dasharray="2,3" stroke-dashoffset="1"/>
<line x1="626" y1="390.5" x2="628" y2="390.5" stroke="#000" stroke-width="1"/>
<line x1="627" y1="342.5" x2="802" y2="342.5" stroke="#8a8a8a" stroke-width="1" stroke-dasharray="2,3" stroke-dashoffset="1"/>
<line x1="626" y1="342.5" x2="628" y2="342.5" stroke="#000" stroke-width="1"/>
<g clip-path="url(#c3)">
<line x1="661" y1="533.5" x2="802" y2="533.5" stroke="#000" stroke-width="1"/>
<polyline points="637.3,296.0 642.1,321.0 646.1,350.0 651.0,376.0 657.6,400.0 664.2,425.0 670.4,450.0 679.3,494.0 690.8,534.0 696.3,560.0 701.4,582.0 709.6,601.5" fill="none" stroke="#bf4a06" stroke-width="3.2" stroke-linejoin="round" stroke-linecap="butt"/>
<polyline points="627.1,296.0 636.6,321.0 638.1,330.0 640.0,350.0 642.1,376.0 647.7,400.0 654.3,425.0 658.0,448.0 665.4,472.0 670.4,494.0 672.7,516.0 673.8,534.0 674.2,541.0 683.0,560.0 690.8,580.0 696.3,601.5" fill="none" stroke="#0878ee" stroke-width="3.2" stroke-linejoin="round" stroke-linecap="butt"/>
<text x="644.3" y="299.5" class="m" text-anchor="middle">234/7</text>
<text x="644.3" y="328.4" class="m" text-anchor="middle">231/6</text>
<text x="644.3" y="355" class="m" text-anchor="middle">228/4</text>
<text x="644.3" y="379.7" class="m" text-anchor="middle">230/3</text>
<text x="644.3" y="405.4" class="m" text-anchor="middle">240/3</text>
<text x="644.3" y="430.2" class="m" text-anchor="middle">257/3</text>
<text x="644.3" y="452.7" class="m" text-anchor="middle">266/3</text>
<text x="644.3" y="475.8" class="m" text-anchor="middle">293/2</text>
<text x="644.3" y="499" class="m" text-anchor="middle">310/2</text>
<text x="644.3" y="520.9" class="m" text-anchor="middle">311/2</text>
<text x="644.3" y="543" class="m" text-anchor="middle">312/1</text>
<text x="644.3" y="563.6" class="m" text-anchor="middle">129/1</text>
<text x="644.3" y="585" class="m" text-anchor="middle">117/2</text>
<text x="644.3" y="604.1" class="m" text-anchor="middle">111/3</text>
</g>
<text x="796" y="541.7" class="m" text-anchor="end">KKH: 993</text>
<text x="778.5" y="307.3" class="m" text-anchor="end">soaring:</text>
<text x="788" y="307.3" class="m" text-anchor="middle">20</text>
<text x="778.5" y="316.6" class="m" text-anchor="end">showalter:</text>
<text x="788" y="316.6" class="m" text-anchor="middle">2</text>
<text x="778.5" y="326" class="m" text-anchor="end">CAPE:</text>
<text x="788" y="326" class="m" text-anchor="middle">76</text>
<text x="777.5" y="617.2" class="m" text-anchor="end">Tkon:</text>
<text x="788" y="617.2" class="m" text-anchor="middle">9.3</text>
<text x="777.5" y="626" class="m" text-anchor="end">Tmax:</text>
<text x="788" y="626" class="m" text-anchor="middle">8.1</text>
<rect x="626.5" y="295.5" width="176" height="333" fill="none" stroke="#000" stroke-width="1"/>
<text x="658.5" y="639" class="m" text-anchor="middle">-10</text>
<text x="688.0" y="639" class="m" text-anchor="middle">0</text>
<text x="717.5" y="639" class="m" text-anchor="middle">10</text>
<text x="747.0" y="639" class="m" text-anchor="middle">20</text>
<text x="776.5" y="639" class="m" text-anchor="middle">30</text>
<text x="796" y="639" class="m" text-anchor="middle">C</text>
<text class="m" text-anchor="middle" transform="translate(616.5,626.8) rotate(-90)">0</text>
<text class="m" text-anchor="middle" transform="translate(616.5,579.2) rotate(-90)">500</text>
<text class="m" text-anchor="middle" transform="translate(616.5,531.6) rotate(-90)">1000</text>
<text class="m" text-anchor="middle" transform="translate(616.5,484.0) rotate(-90)">1500</text>
<text class="m" text-anchor="middle" transform="translate(616.5,436.3) rotate(-90)">2000</text>
<text class="m" text-anchor="middle" transform="translate(616.5,388.7) rotate(-90)">2500</text>
<text class="m" text-anchor="middle" transform="translate(616.5,341.1) rotate(-90)">3000</text>
<text class="m" text-anchor="middle" transform="translate(616.5,303) rotate(-90)">m</text>
<line x1="852.5" y1="295" x2="852.5" y2="628" stroke="#8a8a8a" stroke-width="1" stroke-dasharray="2,3" stroke-dashoffset="0"/>
<line x1="852.5" y1="628" x2="852.5" y2="630" stroke="#000" stroke-width="1"/>
<line x1="881.5" y1="295" x2="881.5" y2="628" stroke="#8a8a8a" stroke-width="1" stroke-dasharray="2,3" stroke-dashoffset="0"/>
<line x1="881.5" y1="628" x2="881.5" y2="630" stroke="#000" stroke-width="1"/>
<line x1="911.5" y1="295" x2="911.5" y2="628" stroke="#8a8a8a" stroke-width="1" stroke-dasharray="2,3" stroke-dashoffset="0"/>
<line x1="911.5" y1="628" x2="911.5" y2="630" stroke="#000" stroke-width="1"/>
<line x1="940.5" y1="295" x2="940.5" y2="628" stroke="#8a8a8a" stroke-width="1" stroke-dasharray="2,3" stroke-dashoffset="0"/>
<line x1="940.5" y1="628" x2="940.5" y2="630" stroke="#000" stroke-width="1"/>
<line x1="970.5" y1="295" x2="970.5" y2="628" stroke="#8a8a8a" stroke-width="1" stroke-dasharray="2,3" stroke-dashoffset="0"/>
<line x1="970.5" y1="628" x2="970.5" y2="630" stroke="#000" stroke-width="1"/>
<line x1="823" y1="580.5" x2="998" y2="580.5" stroke="#8a8a8a" stroke-width="1" stroke-dasharray="2,3" stroke-dashoffset="1"/>
<line x1="822" y1="580.5" x2="824" y2="580.5" stroke="#000" stroke-width="1"/>
<line x1="823" y1="533.5" x2="998" y2="533.5" stroke="#8a8a8a" stroke-width="1" stroke-dasharray="2,3" stroke-dashoffset="1"/>
<line x1="822" y1="533.5" x2="824" y2="533.5" stroke="#000" stroke-width="1"/>
<line x1="823" y1="485.5" x2="998" y2="485.5" stroke="#8a8a8a" stroke-width="1" stroke-dasharray="2,3" stroke-dashoffset="1"/>
<line x1="822" y1="485.5" x2="824" y2="485.5" stroke="#000" stroke-width="1"/>
<line x1="823" y1="437.5" x2="998" y2="437.5" stroke="#8a8a8a" stroke-width="1" stroke-dasharray="2,3" stroke-dashoffset="1"/>
<line x1="822" y1="437.5" x2="824" y2="437.5" stroke="#000" stroke-width="1"/>
<line x1="823" y1="390.5" x2="998" y2="390.5" stroke="#8a8a8a" stroke-width="1" stroke-dasharray="2,3" stroke-dashoffset="1"/>
<line x1="822" y1="390.5" x2="824" y2="390.5" stroke="#000" stroke-width="1"/>
<line x1="823" y1="342.5" x2="998" y2="342.5" stroke="#8a8a8a" stroke-width="1" stroke-dasharray="2,3" stroke-dashoffset="1"/>
<line x1="822" y1="342.5" x2="824" y2="342.5" stroke="#000" stroke-width="1"/>
<g clip-path="url(#c4)">
<line x1="857" y1="571.5" x2="998" y2="571.5" stroke="#000" stroke-width="1"/>
<polyline points="836.7,296.0 846.0,350.0 852.6,376.0 857.5,400.0 862.6,425.0 867.0,450.0 877.0,494.0 879.2,516.0 882.5,534.0 888.0,570.0 890.7,582.0 889.0,590.0 886.2,601.0" fill="none" stroke="#bf4a06" stroke-width="3.2" stroke-linejoin="round" stroke-linecap="butt"/>
<polyline points="822.7,317.7 825.0,343.0 826.5,354.0 833.8,376.0 843.8,400.0 847.7,415.0 850.4,425.0 858.1,450.0 865.9,472.0 873.0,494.0 875.8,516.0 877.6,534.0 879.8,560.0 882.6,580.0 889.5,601.0" fill="none" stroke="#0878ee" stroke-width="3.2" stroke-linejoin="round" stroke-linecap="butt"/>
<text x="840.3" y="299.5" class="m" text-anchor="middle">252/5</text>
<text x="840.3" y="328.8" class="m" text-anchor="middle">277/7</text>
<text x="840.3" y="355" class="m" text-anchor="middle">282/7</text>
<text x="840.3" y="381" class="m" text-anchor="middle">285/7</text>
<text x="840.3" y="405.8" class="m" text-anchor="middle">287/6</text>
<text x="840.3" y="430.2" class="m" text-anchor="middle">292/5</text>
<text x="840.3" y="454" class="m" text-anchor="middle">291/4</text>
<text x="840.3" y="476.9" class="m" text-anchor="middle">286/3</text>
<text x="840.3" y="499.9" class="m" text-anchor="middle">267/2</text>
<text x="840.3" y="522" class="m" text-anchor="middle">221/1</text>
<text x="840.3" y="543.7" class="m" text-anchor="middle">153/1</text>
<text x="840.3" y="564.7" class="m" text-anchor="middle">113/1</text>
<text x="840.3" y="585" class="m" text-anchor="middle">80/1</text>
<text x="840.3" y="604.1" class="m" text-anchor="middle">293/2</text>
</g>
<text x="992" y="579.1" class="m" text-anchor="end">KKH: 601</text>
<text x="974.5" y="307.3" class="m" text-anchor="end">soaring:</text>
<text x="984" y="307.3" class="m" text-anchor="middle">16</text>
<text x="974.5" y="316.6" class="m" text-anchor="end">showalter:</text>
<text x="984" y="316.6" class="m" text-anchor="middle">1</text>
<text x="974.5" y="326" class="m" text-anchor="end">CAPE:</text>
<text x="984" y="326" class="m" text-anchor="middle">1</text>
<text x="973.5" y="617.2" class="m" text-anchor="end">Tkon:</text>
<text x="984" y="617.2" class="m" text-anchor="middle">5.6</text>
<text x="973.5" y="626" class="m" text-anchor="end">Tmax:</text>
<text x="984" y="626" class="m" text-anchor="middle">3.9</text>
<rect x="822.5" y="295.5" width="176" height="333" fill="none" stroke="#000" stroke-width="1"/>
<text x="854.5" y="639" class="m" text-anchor="middle">-10</text>
<text x="884.0" y="639" class="m" text-anchor="middle">0</text>
<text x="913.5" y="639" class="m" text-anchor="middle">10</text>
<text x="943.0" y="639" class="m" text-anchor="middle">20</text>
<text x="972.5" y="639" class="m" text-anchor="middle">30</text>
<text x="992" y="639" class="m" text-anchor="middle">C</text>
<text class="m" text-anchor="middle" transform="translate(812.5,626.8) rotate(-90)">0</text>
<text class="m" text-anchor="middle" transform="translate(812.5,579.2) rotate(-90)">500</text>
<text class="m" text-anchor="middle" transform="translate(812.5,531.6) rotate(-90)">1000</text>
<text class="m" text-anchor="middle" transform="translate(812.5,484.0) rotate(-90)">1500</text>
<text class="m" text-anchor="middle" transform="translate(812.5,436.3) rotate(-90)">2000</text>
<text class="m" text-anchor="middle" transform="translate(812.5,388.7) rotate(-90)">2500</text>
<text class="m" text-anchor="middle" transform="translate(812.5,341.1) rotate(-90)">3000</text>
<text class="m" text-anchor="middle" transform="translate(812.5,303) rotate(-90)">m</text>
<line x1="26" y1="681.5" x2="998" y2="681.5" stroke="#7a7a7a" stroke-width="1" stroke-dasharray="2,3" stroke-dashoffset="1"/>
<line x1="25" y1="681.5" x2="27" y2="681.5" stroke="#000" stroke-width="1"/>
<line x1="996" y1="681.5" x2="999" y2="681.5" stroke="#000" stroke-width="1"/>
<line x1="26" y1="695.5" x2="998" y2="695.5" stroke="#7a7a7a" stroke-width="1" stroke-dasharray="2,3" stroke-dashoffset="1"/>
<line x1="25" y1="695.5" x2="27" y2="695.5" stroke="#000" stroke-width="1"/>
<line x1="996" y1="695.5" x2="999" y2="695.5" stroke="#000" stroke-width="1"/>
<line x1="26" y1="710.5" x2="998" y2="710.5" stroke="#7a7a7a" stroke-width="1" stroke-dasharray="2,3" stroke-dashoffset="1"/>
<line x1="25" y1="710.5" x2="27" y2="710.5" stroke="#000" stroke-width="1"/>
<line x1="996" y1="710.5" x2="999" y2="710.5" stroke="#000" stroke-width="1"/>
<line x1="79.5" y1="667" x2="79.5" y2="724" stroke="#7a7a7a" stroke-width="1" stroke-dasharray="2,3" stroke-dashoffset="0"/>
<line x1="133.5" y1="667" x2="133.5" y2="724" stroke="#7a7a7a" stroke-width="1" stroke-dasharray="2,3" stroke-dashoffset="0"/>
<line x1="241.5" y1="667" x2="241.5" y2="724" stroke="#7a7a7a" stroke-width="1" stroke-dasharray="2,3" stroke-dashoffset="0"/>
<line x1="295.5" y1="667" x2="295.5" y2="724" stroke="#7a7a7a" stroke-width="1" stroke-dasharray="2,3" stroke-dashoffset="0"/>
<line x1="403.5" y1="667" x2="403.5" y2="724" stroke="#7a7a7a" stroke-width="1" stroke-dasharray="2,3" stroke-dashoffset="0"/>
<line x1="457.5" y1="667" x2="457.5" y2="724" stroke="#7a7a7a" stroke-width="1" stroke-dasharray="2,3" stroke-dashoffset="0"/>
<line x1="566.5" y1="667" x2="566.5" y2="724" stroke="#7a7a7a" stroke-width="1" stroke-dasharray="2,3" stroke-dashoffset="0"/>
<line x1="620.5" y1="667" x2="620.5" y2="724" stroke="#7a7a7a" stroke-width="1" stroke-dasharray="2,3" stroke-dashoffset="0"/>
<line x1="728.5" y1="667" x2="728.5" y2="724" stroke="#7a7a7a" stroke-width="1" stroke-dasharray="2,3" stroke-dashoffset="0"/>
<line x1="782.5" y1="667" x2="782.5" y2="724" stroke="#7a7a7a" stroke-width="1" stroke-dasharray="2,3" stroke-dashoffset="0"/>
<line x1="890.5" y1="667" x2="890.5" y2="724" stroke="#7a7a7a" stroke-width="1" stroke-dasharray="2,3" stroke-dashoffset="0"/>
<line x1="944.5" y1="667" x2="944.5" y2="724" stroke="#7a7a7a" stroke-width="1" stroke-dasharray="2,3" stroke-dashoffset="0"/>
<rect x="491.0" y="720" width="41" height="4.5" fill="#0080ff"/>
<rect x="546.0" y="679" width="41" height="45.5" fill="#0080ff"/>
<rect x="600.0" y="714" width="41" height="10.5" fill="#0080ff"/>
<rect x="762.0" y="723" width="41" height="1.5" fill="#0080ff"/>
<rect x="816.0" y="715" width="41" height="9.5" fill="#0080ff"/>
<line x1="187.5" y1="667" x2="187.5" y2="725" stroke="#000" stroke-width="1"/>
<line x1="349.5" y1="667" x2="349.5" y2="725" stroke="#000" stroke-width="1"/>
<line x1="511.5" y1="667" x2="511.5" y2="725" stroke="#000" stroke-width="1"/>
<line x1="674.5" y1="667" x2="674.5" y2="725" stroke="#000" stroke-width="1"/>
<line x1="836.5" y1="667" x2="836.5" y2="725" stroke="#000" stroke-width="1"/>
<rect x="25.5" y="667.5" width="973" height="57" fill="none" stroke="#000" stroke-width="1"/>
<text x="28.5" y="680" font-family="'Liberation Sans', Arial, Helvetica, sans-serif" font-size="13" fill="#000" textLength="74">srážky a tlak</text>
<text x="899.8" y="685.6" font-family="'Liberation Sans', Arial, Helvetica, sans-serif" font-size="11.5" fill="#0c0cff">7.5mm</text>
<text x="990" y="685.5" font-family="'Liberation Sans', Arial, Helvetica, sans-serif" font-size="11" fill="#000" text-anchor="end" letter-spacing="0.7">1020hPa</text>
<text x="899.8" y="699.6" font-family="'Liberation Sans', Arial, Helvetica, sans-serif" font-size="11.5" fill="#0c0cff">5mm</text>
<text x="990" y="699.5" font-family="'Liberation Sans', Arial, Helvetica, sans-serif" font-size="11" fill="#000" text-anchor="end" letter-spacing="0.7">1010hPa</text>
<text x="899.8" y="714.6" font-family="'Liberation Sans', Arial, Helvetica, sans-serif" font-size="11.5" fill="#0c0cff">2.5mm</text>
<text x="990" y="714.5" font-family="'Liberation Sans', Arial, Helvetica, sans-serif" font-size="11" fill="#000" text-anchor="end" letter-spacing="0.7">1000hPa</text>
<text x="187.5" y="743.6" font-family="'Liberation Sans', Arial, Helvetica, sans-serif" font-size="23" fill="#000" text-anchor="middle" textLength="53.8" lengthAdjust="spacingAndGlyphs">06:00</text>
<text x="349.5" y="743.6" font-family="'Liberation Sans', Arial, Helvetica, sans-serif" font-size="23" fill="#000" text-anchor="middle" textLength="53.8" lengthAdjust="spacingAndGlyphs">09:00</text>
<text x="511.5" y="743.6" font-family="'Liberation Sans', Arial, Helvetica, sans-serif" font-size="23" fill="#000" text-anchor="middle" textLength="53.8" lengthAdjust="spacingAndGlyphs">12:00</text>
<text x="674.5" y="743.6" font-family="'Liberation Sans', Arial, Helvetica, sans-serif" font-size="23" fill="#000" text-anchor="middle" textLength="53.8" lengthAdjust="spacingAndGlyphs">15:00</text>
<text x="836.5" y="743.6" font-family="'Liberation Sans', Arial, Helvetica, sans-serif" font-size="23" fill="#000" text-anchor="middle" textLength="53.8" lengthAdjust="spacingAndGlyphs">18:00</text>
<text x="998" y="737.6" font-family="'Liberation Sans', Arial, Helvetica, sans-serif" font-size="11.7" fill="#000" text-anchor="end">(c)flymet.info</text>
</svg>
</body></html>
